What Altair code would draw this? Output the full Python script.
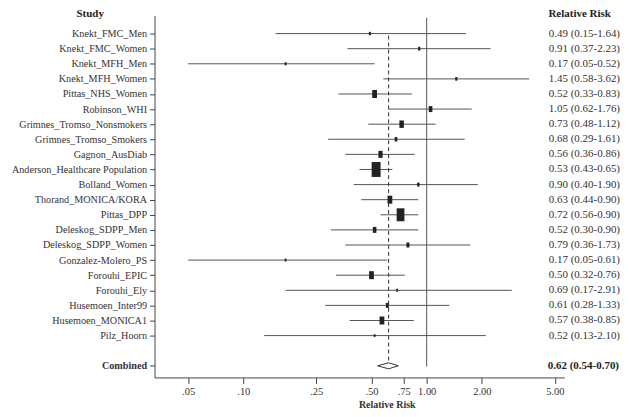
import altair as alt
import pandas as pd

# ---------------- data ----------------
studies = [
    "Knekt_FMC_Men", "Knekt_FMC_Women", "Knekt_MFH_Men", "Knekt_MFH_Women",
    "Pittas_NHS_Women", "Robinson_WHI", "Grimnes_Tromso_Nonsmokers",
    "Grimnes_Tromso_Smokers", "Gagnon_AusDiab", "Anderson_Healthcare Population",
    "Bolland_Women", "Thorand_MONICA/KORA", "Pittas_DPP", "Deleskog_SDPP_Men",
    "Deleskog_SDPP_Women", "Gonzalez-Molero_PS", "Forouhi_EPIC", "Forouhi_Ely",
    "Husemoen_Inter99", "Husemoen_MONICA1", "Pilz_Hoorn",
]
rr = [0.49, 0.91, 0.17, 1.45, 0.52, 1.05, 0.73, 0.68, 0.56, 0.53, 0.90,
      0.63, 0.72, 0.52, 0.79, 0.17, 0.50, 0.69, 0.61, 0.57, 0.52]
lower = [0.15, 0.37, 0.05, 0.58, 0.33, 0.62, 0.48, 0.29, 0.36, 0.43, 0.40,
         0.44, 0.56, 0.30, 0.36, 0.05, 0.32, 0.17, 0.28, 0.38, 0.13]
upper = [1.64, 2.23, 0.52, 3.62, 0.83, 1.76, 1.12, 1.61, 0.86, 0.65, 1.90,
         0.90, 0.90, 0.90, 1.73, 0.61, 0.76, 2.91, 1.33, 0.85, 2.10]
weights = [1.2, 1.4, 1.0, 1.3, 6.4, 3.6, 5.6, 2.0, 4.9, 22.5, 1.6,
           6.4, 16.9, 3.6, 2.5, 0.9, 6.4, 0.9, 2.5, 6.4, 0.8]
combined_name = "Combined"
combined_rr, combined_lo, combined_hi = 0.62, 0.54, 0.70
x_ticks = [0.05, 0.10, 0.25, 0.50, 0.75, 1.00, 2.00, 5.00]

# ---------------- tables ----------------
n = len(studies)
crow = n + 1  # one blank row before the pooled estimate
df = pd.DataFrame({"study": studies, "row": list(range(n)), "rr": rr,
                   "lo": lower, "hi": upper, "w": weights})
df["label"] = [f"{a:.2f} ({b:.2f}-{c:.2f})" for a, b, c in zip(rr, lower, upper)]

half = 0.2
dia = pd.DataFrame({"x": [combined_lo, combined_rr, combined_hi],
                    "y": [crow, crow - half, crow],
                    "y2": [crow, crow + half, crow]})
comb_txt = pd.DataFrame({"row": [crow],
                         "label": [f"{combined_rr:.2f} ({combined_lo:.2f}-{combined_hi:.2f})"]})
ref_one = pd.DataFrame({"x": [1.0]})
ref_comb = pd.DataFrame({"x": [combined_rr]})

FONT = "Times New Roman"
TXT = "#333333"
LINE = "#555555"

names = studies + ["", combined_name]
label_expr = "[" + ",".join("'" + s + "'" for s in names) + "][datum.value]"

xscale = alt.Scale(type="log", domain=[0.0328, 5.62], nice=False)
xaxis = alt.Axis(values=x_ticks, grid=False, tickSize=6, labelPadding=3, labelFontSize=10.5,
                 labelExpr="datum.value < 1 ? replace(format(datum.value, '.2f'), '0.', '.') : format(datum.value, '.2f')",
                 title="Relative Risk", titleFontWeight="bold", titleFontSize=10,
                 titleX=233, titleY=30, titleBaseline="alphabetic", titleAlign="center",
                 titleColor=TXT)
yscale = alt.Scale(domain=[-1.188, 22.772], reverse=True, nice=False, zero=False)
yaxis = alt.Axis(values=list(range(n)) + [crow], labelExpr=label_expr, grid=False,
                 tickSize=5, labelPadding=3, title=None, labelFontSize=10.2,
                 labelFontWeight={"condition": {"test": f"datum.value == {crow}", "value": "bold"},
                                  "value": "normal"})

ref1 = alt.Chart(ref_one).mark_rule(color=LINE, strokeWidth=1).encode(
    x=alt.X("x:Q", scale=xscale, axis=xaxis), y=alt.value(2), y2=alt.value(352))
ref2 = alt.Chart(ref_comb).mark_rule(color="#333333", strokeWidth=1, strokeDash=[4, 3]).encode(
    x=alt.X("x:Q", scale=xscale, axis=xaxis), y=alt.value(20), y2=alt.value(349))

ci = alt.Chart(df).mark_rule(color=LINE, strokeWidth=1).encode(
    x=alt.X("lo:Q", scale=xscale, axis=xaxis), x2="hi:Q",
    y=alt.Y("row:Q", scale=yscale, axis=yaxis))

boxes = alt.Chart(df).mark_point(shape="M-0.6,-1L0.6,-1L0.6,1L-0.6,1Z", filled=True,
                                 color="#222222", opacity=1).encode(
    x=alt.X("rr:Q", scale=xscale, axis=xaxis),
    y=alt.Y("row:Q", scale=yscale, axis=yaxis),
    size=alt.Size("w:Q", scale=alt.Scale(domain=[0, 22.5], range=[0, 225]), legend=None))

diamond = alt.Chart(dia).mark_area(fill="white", stroke="#333333", strokeWidth=1,
                                   orient="vertical", opacity=1).encode(
    x=alt.X("x:Q", scale=xscale, axis=xaxis),
    y=alt.Y("y:Q", scale=yscale, axis=yaxis), y2="y2:Q")

vals = alt.Chart(df).mark_text(align="right", baseline="middle", font=FONT,
                               fontSize=11, color=TXT).encode(
    x=alt.value(467), y=alt.Y("row:Q", scale=yscale, axis=yaxis), text="label:N")
cval = alt.Chart(comb_txt).mark_text(align="right", baseline="middle", font=FONT,
                                     fontSize=11, fontWeight="bold", color="#222222").encode(
    x=alt.value(466), y=alt.Y("row:Q", scale=yscale, axis=yaxis), text="label:N")

h1 = alt.Chart(pd.DataFrame({"t": ["Study"]})).mark_text(
    align="center", baseline="alphabetic", font=FONT, fontSize=11, fontWeight="bold",
    color="#222222").encode(x=alt.value(-64.5), y=alt.value(1), text="t:N")
h2 = alt.Chart(pd.DataFrame({"t": ["Relative Risk"]})).mark_text(
    align="center", baseline="alphabetic", font=FONT, fontSize=11, fontWeight="bold",
    color="#222222").encode(x=alt.value(426.5), y=alt.value(1), text="t:N")

chart = alt.layer(ci, ref1, ref2, boxes, diamond, vals, cval, h1, h2).properties(
    width=411, height=363, autosize="none",
    padding={"left": 147, "top": 7, "right": 57, "bottom": 33},
    background="white",
).configure_view(stroke=None).configure_axis(
    labelFont=FONT, titleFont=FONT, labelColor=TXT,
    domainColor="#444444", tickColor="#444444", domainWidth=1, tickWidth=1,
)

chart.save("out.html", embed_options={"renderer": "svg", "actions": False})
